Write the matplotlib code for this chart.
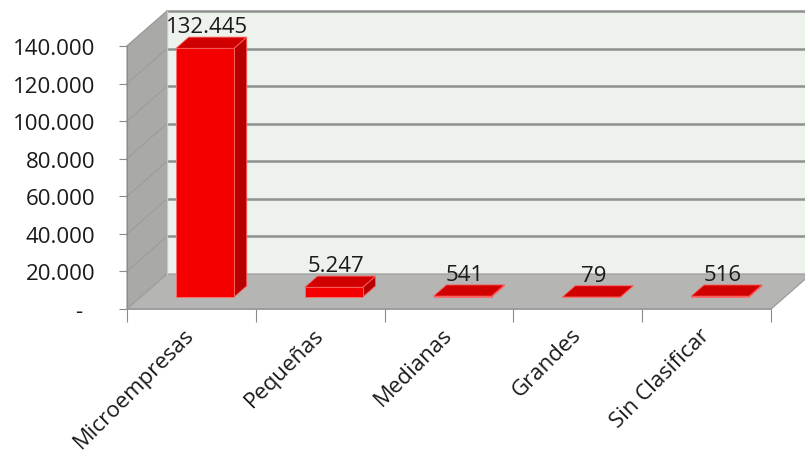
import matplotlib.pyplot as plt
from matplotlib.patches import Polygon
from matplotlib.ticker import FuncFormatter

categorias = ['Microempresas', 'Pequeñas', 'Medianas', 'Grandes', 'Sin Clasificar']
empresas = [132445, 5247, 541, 79, 516]
etiquetas = ['132.445', '5.247', '541', '79', '516']
y_ticks = [0, 20000, 40000, 60000, 80000, 100000, 120000, 140000]

plt.rcParams['font.family'] = ['Open Sans', 'DejaVu Sans']

# oblique depth: a full step back moves right and up (in data units)
DX = 0.31
DY = 18600
YMAX = 140000
n = len(categorias)


def p(x, y, z):
    return (x + z * DX, y + z * DY)


fig = plt.figure(figsize=(8.05, 4.6), dpi=100)
ax = fig.add_axes([127 / 805, 150 / 460, 644 / 805, 263 / 460])
ax.set_xlim(-0.5, n - 0.5)
ax.set_ylim(0, YMAX)
ax.set_facecolor('none')

x0, x1 = -0.5, n - 0.5

# back wall
ax.add_patch(Polygon([p(x0, 0, 1), p(x1, 0, 1), p(x1, YMAX, 1), p(x0, YMAX, 1)],
                     closed=True, facecolor='#eef2ec', edgecolor='none',
                     clip_on=False, zorder=0))
# side wall
ax.add_patch(Polygon([p(x0, 0, 0), p(x0, 0, 1), p(x0, YMAX, 1), p(x0, YMAX, 0)],
                     closed=True, facecolor='#a9aaa8', edgecolor='#9a9a9a',
                     lw=0.8, clip_on=False, zorder=1))
# floor
ax.add_patch(Polygon([p(x0, 0, 0), p(x0, 0, 1), p(x1, 0, 1), p(x1, 0, 0)],
                     closed=True, facecolor='#b5b6b3', edgecolor='#a0a0a0',
                     lw=1.0, clip_on=False, zorder=1))

# gridlines on back and side walls
for v in y_ticks[1:]:
    bx = [p(x0, v, 1)[0], p(x1, v, 1)[0]]
    by = [p(x0, v, 1)[1], p(x1, v, 1)[1]]
    ax.plot(bx, by, color='#8e918d', lw=1.8, clip_on=False, zorder=1)
    ax.plot([p(x0, v, 0)[0], p(x0, v, 1)[0]], [p(x0, v, 0)[1], p(x0, v, 1)[1]],
            color='#9c9d9b', lw=0.8, clip_on=False, zorder=1.5)
ax.plot([p(x0, 0, 1)[0], p(x0, YMAX, 1)[0]], [p(x0, 0, 1)[1], p(x0, YMAX, 1)[1]],
        color='#c8c8c8', lw=1.0, clip_on=False, zorder=1.5)

# 3D bars
w = 0.225
z0, z1 = 0.34, 0.66
for i, (v, lab) in enumerate(zip(empresas, etiquetas)):
    front = [p(i - w, 0, z0), p(i + w, 0, z0), p(i + w, v, z0), p(i - w, v, z0)]
    side = [p(i + w, 0, z0), p(i + w, 0, z1), p(i + w, v, z1), p(i + w, v, z0)]
    top = [p(i - w, v, z0), p(i + w, v, z0), p(i + w, v, z1), p(i - w, v, z1)]
    ax.add_patch(Polygon(side, closed=True, facecolor='#b80000',
                         edgecolor='#ff6060', lw=0.6, clip_on=False, zorder=3))
    ax.add_patch(Polygon(front, closed=True, facecolor='#f40000',
                         edgecolor='#ff7070', lw=0.6, clip_on=False, zorder=3))
    ax.add_patch(Polygon(top, closed=True, facecolor='#d00000',
                         edgecolor='#ff6060', lw=0.6, clip_on=False, zorder=3))
    lx, ly = p(i, v, z1)
    ax.text(i + 0.4 * DX, ly, lab, ha='center', va='bottom', fontsize=16,
            color='#1a1a1a', zorder=4)

# axes
for s in ['top', 'right']:
    ax.spines[s].set_visible(False)
ax.spines['left'].set_color('#8a8a8a')
ax.spines['bottom'].set_color('#9a9a9a')
ax.spines['bottom'].set_linewidth(1.2)

ax.set_yticks(y_ticks)
ax.yaxis.set_major_formatter(FuncFormatter(
    lambda v, pos: '-  ' if v == 0 else f'{int(v):,}'.replace(',', '.')))
ax.tick_params(axis='y', length=6, color='#8a8a8a', labelsize=16,
               labelcolor='#1a1a1a', pad=17)

ax.set_xticks([k - 0.5 for k in range(n + 1)])
ax.set_xticklabels([])
ax.set_xticks(range(n), minor=True)
ax.set_xticklabels(categorias, minor=True, rotation=45, ha='right',
                   va='center', rotation_mode='anchor', fontsize=16,
                   color='#1a1a1a')
ax.tick_params(axis='x', which='major', length=9, color='#8a8a8a')
ax.tick_params(axis='x', which='minor', length=0, pad=16)

fig.savefig('out.png', dpi=100)
